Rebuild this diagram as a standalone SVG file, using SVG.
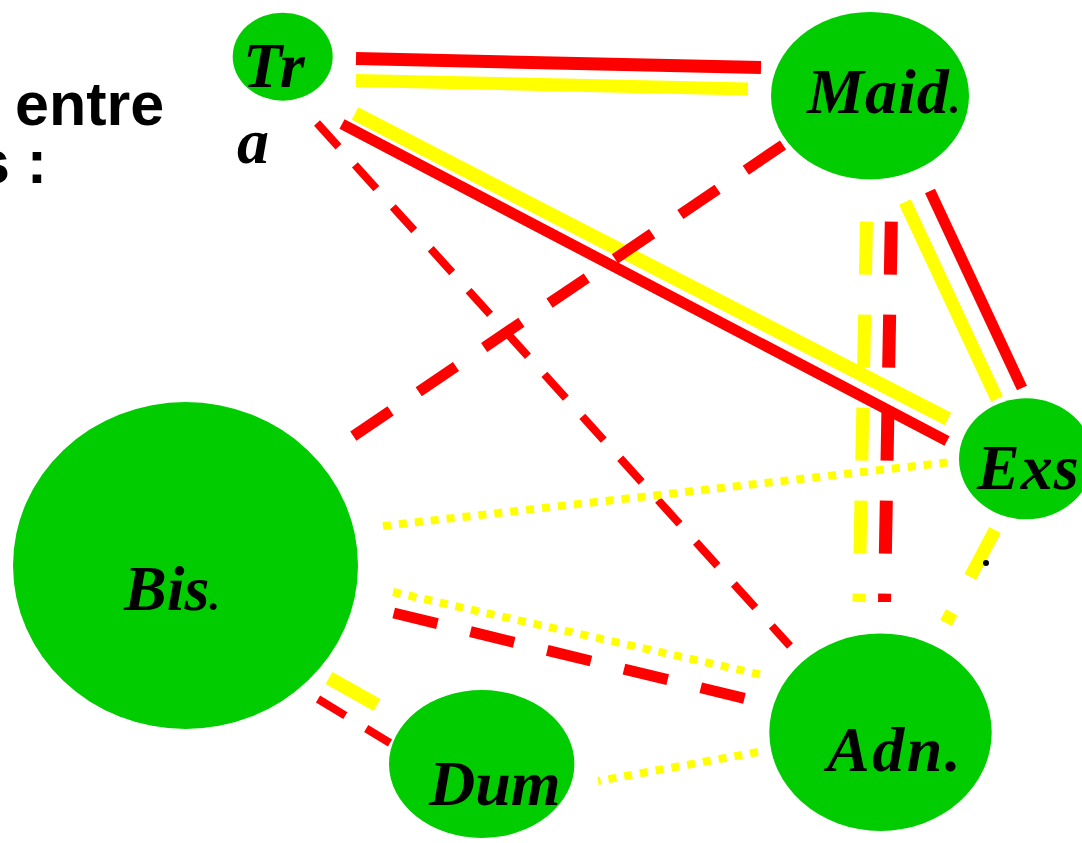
<svg xmlns="http://www.w3.org/2000/svg" width="1082" height="843" viewBox="0 0 1082 843">
<style>
.node{fill:#00cc00}
.lbl{font-family:"Liberation Serif","Times New Roman",serif;font-weight:bold;font-style:italic;font-size:64px;fill:#000}
.title{font-family:"Liberation Sans",Arial,sans-serif;font-weight:bold;font-size:61px;fill:#000}
.c{fill:none;stroke-linecap:butt}
.r{stroke:#ff0000}
.y{stroke:#ffff00}
.dot{stroke-dasharray:8 8;stroke-width:8}
.dashS{stroke-dasharray:32 24.5;stroke-width:8}
.dashL{stroke-dasharray:45 34;stroke-width:11}
.dashV{stroke-dasharray:53 40;stroke-width:13}
</style>
<rect width="1082" height="843" fill="#fff"/>
<text class="title" x="15" y="125">entre</text>
<text class="title" x="-24" y="183">s :</text>
<g id="connectors">
<line class="c r" x1="356" y1="58.5" x2="761" y2="67.5" stroke-width="13"/>
<line class="c y" x1="356" y1="80.5" x2="748" y2="89" stroke-width="13"/>
<line class="c y" x1="355" y1="113.5" x2="948" y2="419" stroke-width="14"/>
<line class="c r" x1="342" y1="124" x2="947" y2="441" stroke-width="11"/>
<line class="c y" x1="905" y1="202" x2="997" y2="399" stroke-width="13"/>
<line class="c r" x1="930" y1="191" x2="1022" y2="388" stroke-width="11"/>
<line class="c y dashV" x1="866.5" y1="221.7" x2="859" y2="602"/>
<line class="c r dashV" x1="891.3" y1="221.7" x2="884.5" y2="602"/>
<line class="c r dashS" x1="317" y1="123" x2="790" y2="646"/>
<line class="c r dashL" x1="783" y1="145" x2="352" y2="437"/>
<line class="c y dot" x1="383" y1="526" x2="947" y2="462.5"/>
<line class="c y dot" x1="393" y1="592" x2="760" y2="674.5"/>
<line class="c r dashL" x1="393.7" y1="613" x2="747" y2="699"/>
<line class="c y" x1="329" y1="678" x2="377" y2="705" stroke-width="14"/>
<line class="c r dashS" x1="318" y1="699" x2="390" y2="743"/>
<line class="c y dot" x1="758" y1="752" x2="598" y2="781"/>
<line class="c y dashV" x1="995" y1="530" x2="946" y2="623"/>
</g>
<circle cx="986" cy="563" r="3" fill="#000"/>
<g id="node-tr">
<ellipse class="node" cx="282.7" cy="56.7" rx="50" ry="44"/>
<text class="lbl" x="243" y="87">Tr</text>
<text class="lbl" x="237" y="163">a</text>
</g>
<g id="node-maid">
<ellipse class="node" cx="870" cy="95.7" rx="99" ry="83.7"/>
<text class="lbl" x="807" y="112.5" letter-spacing="1">Maid<tspan font-size="42">.</tspan></text>
</g>
<g id="node-exs">
<ellipse class="node" cx="1026" cy="458.8" rx="67" ry="60.5"/>
<text class="lbl" x="977" y="489" letter-spacing="1">Exs</text>
</g>
<g id="node-bis">
<ellipse class="node" cx="185.5" cy="565.5" rx="172.5" ry="163.5"/>
<text class="lbl" x="124" y="610">Bis<tspan font-size="42">.</tspan></text>
</g>
<g id="node-dum">
<ellipse class="node" cx="481.7" cy="764" rx="92.7" ry="74"/>
<text class="lbl" x="429" y="805">Dum</text>
</g>
<g id="node-adn">
<ellipse class="node" cx="880.5" cy="732.2" rx="111.2" ry="98.8"/>
<text class="lbl" x="827" y="770.5" letter-spacing="2.5">Adn.</text>
</g>
</svg>
